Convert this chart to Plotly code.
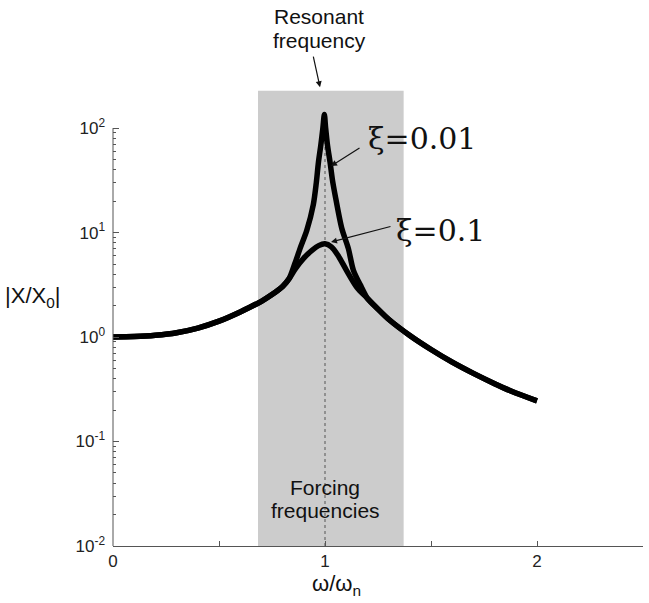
import plotly.graph_objects as go

# ---- data ----
shared_x = [0, 0.1, 0.2, 0.3, 0.4, 0.5, 0.6, 0.7, 0.75, 0.8, 0.83]
shared_y = [1.00, 1.01, 1.04, 1.10, 1.22, 1.42, 1.74, 2.2, 2.55, 3.05, 3.6]

tail_x = [1.2, 1.25, 1.3, 1.4, 1.5, 1.6, 1.7, 1.8, 1.9, 2.0]
tail_y = [2.35, 1.85, 1.48, 1.035, 0.76, 0.575, 0.449, 0.358, 0.291, 0.245]

xi01_peak_x = [0.86, 0.9, 0.94, 0.97, 1.0, 1.03, 1.06, 1.1, 1.15]
xi01_peak_y = [4.5, 5.7, 6.8, 7.5, 7.8, 7.3, 6.1, 4.4, 3.0]

xi001_peak_x = [0.857, 0.883, 0.914, 0.945, 0.959, 0.969, 0.98, 0.99, 0.997,
                1.003, 1.012, 1.024, 1.035, 1.048, 1.079, 1.11, 1.134, 1.172]
xi001_peak_y = [5.0, 7.1, 10.5, 18.6, 30, 47, 68, 100, 135,
                100, 68, 47, 32, 22.7, 11, 7.06, 4.35, 3.0]

shade_x = [0.684, 1.371]
resonance_x = [1, 1]
resonance_y = [0.01, 135]

y_tickvals = [0.01, 0.1, 1, 10, 100]
y_ticktext = ["10<sup>-2</sup>", "10<sup>-1</sup>", "10<sup>0</sup>",
              "10<sup>1</sup>", "10<sup>2</sup>"]
x_tickvals = [0, 0.5, 1, 1.5, 2, 2.5]
x_ticktext = ["0", "", "1", "", "2", ""]
minor_vals = [m * 10 ** k for k in (-2, -1, 0, 1) for m in range(2, 10)]

# ---- layout geometry (pixels) ----
W, H = 649, 603
Y_LO, Y_HI, Y_AXIS_TOP = -2, 2.25, 2      # log10 range; axis line stops at 10^2
L, R, B = 113, 6, 57
DEC = 104.5                                 # pixels per decade
PH = (Y_HI - Y_LO) * DEC
T = H - B - PH
PW = W - L - R


def P(px, py):
    return (px - L) / PW, (H - B - py) / PH


fig = go.Figure()

fig.add_trace(go.Scatter(x=resonance_x, y=resonance_y, mode="lines",
                         line=dict(color="#555555", width=1, dash="dot"),
                         hoverinfo="skip", showlegend=False))

curve_line = dict(color="#000000", width=5.5, shape="spline", smoothing=0.8)
fig.add_trace(go.Scatter(x=shared_x + xi01_peak_x + tail_x,
                         y=shared_y + xi01_peak_y + tail_y,
                         mode="lines", line=curve_line, name="ξ=0.1",
                         showlegend=False))
fig.add_trace(go.Scatter(x=shared_x + xi001_peak_x + tail_x,
                         y=shared_y + xi001_peak_y + tail_y,
                         mode="lines", line=curve_line, name="ξ=0.01",
                         showlegend=False))

fig.add_shape(type="rect", xref="x", yref="paper", x0=shade_x[0], x1=shade_x[1],
              y0=0, y1=P(0, 90.7)[1], fillcolor="#cccccc", line=dict(width=0),
              layer="below")
# left axis line, only up to 10^2
fig.add_shape(type="line", xref="paper", yref="paper", x0=0, x1=0, y0=0,
              y1=(Y_AXIS_TOP - Y_LO) / (Y_HI - Y_LO),
              line=dict(color="#555555", width=1), layer="above")

sans = "Liberation Sans, Arial, sans-serif"
serif = "DejaVu Serif, serif"
ann = []


def text(px, py, s, size, family=sans):
    x, y = P(px, py)
    ann.append(dict(x=x, y=y, xref="paper", yref="paper", text=s,
                    showarrow=False, xanchor="center", yanchor="middle",
                    font=dict(family=family, size=size, color="#111111")))


def arrow(tip, tail):
    x, y = P(*tip)
    ann.append(dict(x=x, y=y, xref="paper", yref="paper", text="",
                    showarrow=True, axref="pixel", ayref="pixel",
                    ax=tail[0] - tip[0], ay=tail[1] - tip[1],
                    arrowhead=2, arrowsize=1, arrowwidth=1.2,
                    arrowcolor="#111111", standoff=0))


text(319, 16, "Resonant", 21)
text(319, 40, "frequency", 21)
arrow((320, 87), (313, 55))
text(421.5, 138, "ξ=0.01", 30, serif)
arrow((331, 166), (361, 147))
text(440, 230, "ξ=0.1", 30, serif)
arrow((331, 242), (392, 226))
text(325, 487, "Forcing", 21)
text(325, 510, "frequencies", 21)
text(32, 297, "|X/X<sub>0</sub>|", 22)
text(336, 585, "ω/ω<sub>n</sub>", 22)

fig.update_layout(
    width=W, height=H,
    margin=dict(l=L, r=R, t=T, b=B, pad=0),
    paper_bgcolor="white", plot_bgcolor="white",
    annotations=ann,
    xaxis=dict(range=[0, 2.5], showline=True, linecolor="#555555", linewidth=1,
               ticks="inside", ticklen=5, tickcolor="#555555",
               tickvals=x_tickvals, ticktext=x_ticktext,
               showgrid=False, zeroline=False,
               tickfont=dict(family=sans, size=17, color="#222222")),
    yaxis=dict(type="log", range=[Y_LO, Y_HI], showline=False,
               ticks="inside", ticklen=6, tickcolor="#555555",
               tickvals=y_tickvals, ticktext=y_ticktext,
               ticklabelstandoff=7,
               showgrid=False, zeroline=False,
               minor=dict(ticks="inside", ticklen=3, tickcolor="#555555",
                          tickvals=minor_vals, showgrid=False),
               tickfont=dict(family=sans, size=17, color="#222222")),
)

fig.write_html("out.html", config={"displayModeBar": False},
               post_script="document.body.style.margin='0';"
                           "document.body.style.overflow='hidden';")
